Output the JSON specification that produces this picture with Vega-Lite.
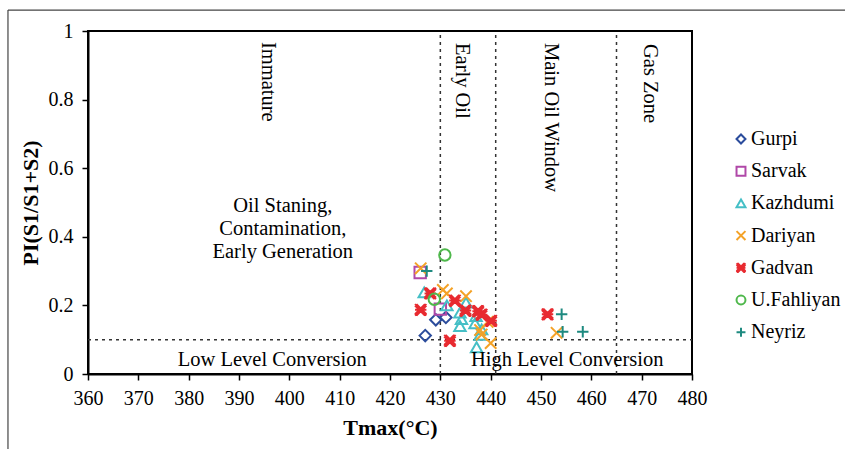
{
  "$schema": "https://vega.github.io/schema/vega-lite/v6.json",
  "autosize": "none",
  "width": 604,
  "height": 343,
  "padding": {"left": 88, "top": 31, "right": 153, "bottom": 75},
  "background": "white",
  "config": {
    "font": "Liberation Serif",
    "view": {"stroke": "black", "strokeWidth": 2},
    "axis": {
      "domainColor": "black",
      "domainWidth": 2,
      "tickColor": "black",
      "tickWidth": 1.5,
      "tickSize": 6,
      "labelColor": "black",
      "labelFont": "Liberation Serif",
      "labelFontSize": 20,
      "labelFlush": false,
      "labelOverlap": false,
      "titleColor": "black",
      "titleFont": "Liberation Serif",
      "titleFontSize": 22,
      "titleFontWeight": "bold",
      "grid": false
    },
    "legend": {
      "labelFont": "Liberation Serif",
      "labelFontSize": 20,
      "labelColor": "black"
    }
  },
  "encoding": {
    "x": {
      "field": "Tmax",
      "type": "quantitative",
      "scale": {"domain": [360, 480], "nice": false, "zero": false},
      "axis": {
        "title": "Tmax(°C)",
        "values": [360, 370, 380, 390, 400, 410, 420, 430, 440, 450, 460, 470, 480],
        "labelPadding": 8,
        "titlePadding": 9
      }
    },
    "y": {
      "field": "PI",
      "type": "quantitative",
      "scale": {"domain": [0, 1], "nice": false, "zero": false},
      "axis": {
        "title": "PI(S1/S1+S2)",
        "values": [0, 0.2, 0.4, 0.6, 0.8, 1],
        "format": ".1~f",
        "labelPadding": 9,
        "titlePadding": 6
      }
    }
  },
  "layer": [
    {
      "data": {"values": [
        {"Tmax": 344.1, "Tmax2": 512, "PI": 1.061, "PI2": 1.061},
        {"Tmax": 344.1, "Tmax2": 344.1, "PI": 1.061, "PI2": -0.23}
      ]},
      "mark": {"type": "rule", "color": "#444444", "strokeWidth": 1.2, "clip": false},
      "encoding": {
        "x2": {"field": "Tmax2"},
        "y2": {"field": "PI2"}
      }
    },
    {
      "data": {"values": [
        {"Tmax": 430, "Tmax2": 430, "PI": 0, "PI2": 1},
        {"Tmax": 441, "Tmax2": 441, "PI": 0, "PI2": 1},
        {"Tmax": 465, "Tmax2": 465, "PI": 0, "PI2": 1},
        {"Tmax": 360, "Tmax2": 480, "PI": 0.1, "PI2": 0.1}
      ]},
      "mark": {"type": "rule", "color": "#333333", "strokeWidth": 1.5, "strokeDash": [3, 4]},
      "encoding": {
        "x2": {"field": "Tmax2"},
        "y2": {"field": "PI2"}
      }
    },
    {
      "data": {"values": [
        {"Formation": "Gurpi", "Tmax": 427.0, "PI": 0.112},
        {"Formation": "Gurpi", "Tmax": 429.1, "PI": 0.158},
        {"Formation": "Gurpi", "Tmax": 431.1, "PI": 0.165},
        {"Formation": "Sarvak", "Tmax": 426.0, "PI": 0.296},
        {"Formation": "Sarvak", "Tmax": 430.0, "PI": 0.189},
        {"Formation": "Kazhdumi", "Tmax": 426.8, "PI": 0.238},
        {"Formation": "Kazhdumi", "Tmax": 431.3, "PI": 0.200},
        {"Formation": "Kazhdumi", "Tmax": 435.1, "PI": 0.208},
        {"Formation": "Kazhdumi", "Tmax": 433.9, "PI": 0.179},
        {"Formation": "Kazhdumi", "Tmax": 434.2, "PI": 0.160},
        {"Formation": "Kazhdumi", "Tmax": 433.9, "PI": 0.140},
        {"Formation": "Kazhdumi", "Tmax": 437.1, "PI": 0.169},
        {"Formation": "Kazhdumi", "Tmax": 436.9, "PI": 0.148},
        {"Formation": "Kazhdumi", "Tmax": 438.2, "PI": 0.130},
        {"Formation": "Kazhdumi", "Tmax": 437.9, "PI": 0.114},
        {"Formation": "Kazhdumi", "Tmax": 437.2, "PI": 0.078},
        {"Formation": "Dariyan", "Tmax": 426.1, "PI": 0.308},
        {"Formation": "Dariyan", "Tmax": 430.5, "PI": 0.245},
        {"Formation": "Dariyan", "Tmax": 431.3, "PI": 0.235},
        {"Formation": "Dariyan", "Tmax": 435.1, "PI": 0.227},
        {"Formation": "Dariyan", "Tmax": 437.9, "PI": 0.128},
        {"Formation": "Dariyan", "Tmax": 438.2, "PI": 0.115},
        {"Formation": "Dariyan", "Tmax": 440.0, "PI": 0.090},
        {"Formation": "Dariyan", "Tmax": 439.4, "PI": 0.152},
        {"Formation": "Dariyan", "Tmax": 453.1, "PI": 0.120},
        {"Formation": "Gadvan", "Tmax": 428.0, "PI": 0.235},
        {"Formation": "Gadvan", "Tmax": 426.1, "PI": 0.187},
        {"Formation": "Gadvan", "Tmax": 432.9, "PI": 0.214},
        {"Formation": "Gadvan", "Tmax": 435.0, "PI": 0.185},
        {"Formation": "Gadvan", "Tmax": 437.5, "PI": 0.183},
        {"Formation": "Gadvan", "Tmax": 438.2, "PI": 0.173},
        {"Formation": "Gadvan", "Tmax": 440.1, "PI": 0.155},
        {"Formation": "Gadvan", "Tmax": 431.9, "PI": 0.097},
        {"Formation": "Gadvan", "Tmax": 451.3, "PI": 0.174},
        {"Formation": "U.Fahliyan", "Tmax": 430.9, "PI": 0.347},
        {"Formation": "U.Fahliyan", "Tmax": 428.8, "PI": 0.218},
        {"Formation": "Neyriz", "Tmax": 427.3, "PI": 0.300},
        {"Formation": "Neyriz", "Tmax": 454.1, "PI": 0.174},
        {"Formation": "Neyriz", "Tmax": 454.3, "PI": 0.123},
        {"Formation": "Neyriz", "Tmax": 458.3, "PI": 0.123}
      ]},
      "mark": {"type": "point", "filled": false, "strokeWidth": 2, "opacity": 1, "size": 130},
      "encoding": {
        "color": {
          "field": "Formation",
          "type": "nominal",
          "scale": {
            "domain": ["Gurpi", "Sarvak", "Kazhdumi", "Dariyan", "Gadvan", "U.Fahliyan", "Neyriz"],
            "range": ["#2B4C9C", "#B048A8", "#45BFC6", "#F4A227", "#E82A30", "#4FB84C", "#1E8A80"]
          },
          "legend": {
            "title": null,
            "orient": "none",
            "legendX": 643,
            "legendY": 98,
            "padding": 0,
            "rowPadding": 12.2,
            "symbolSize": 80,
            "symbolStrokeWidth": 2,
            "labelOffset": 0
          }
        },
        "shape": {
          "field": "Formation",
          "type": "nominal",
          "scale": {
            "domain": ["Gurpi", "Sarvak", "Kazhdumi", "Dariyan", "Gadvan", "U.Fahliyan", "Neyriz"],
            "range": [
              "diamond",
              "square",
              "triangle-up",
              "M-1,-1L1,1M1,-1L-1,1",
              "M-1,-1L1,1M1,-1L-1,1M-0.75,-1L1,0.75M-1,-0.75L0.75,1M0.75,-1L-1,0.75M1,-0.75L-0.75,1M-1,0L1,0",
              "circle",
              "M-1,0L1,0M0,-1L0,1"
            ]
          }
        }
      }
    },
    {
      "data": {"values": [
        {"label": "Immature", "Tmax": 395.8, "PI": 0.968},
        {"label": "Early Oil", "Tmax": 434.4, "PI": 0.965},
        {"label": "Main Oil Window", "Tmax": 452.0, "PI": 0.965},
        {"label": "Gas Zone", "Tmax": 471.7, "PI": 0.962}
      ]},
      "mark": {"type": "text", "angle": 90, "align": "left", "baseline": "middle", "fontSize": 20.5, "color": "black"},
      "encoding": {"text": {"field": "label"}}
    },
    {
      "data": {"values": [
        {"label": "Oil Staning,\nContamination,\nEarly Generation", "Tmax": 398.7, "PI": 0.49},
        {"label": "Low Level Conversion", "Tmax": 396.6, "PI": 0.041},
        {"label": "High Level Conversion", "Tmax": 455.2, "PI": 0.041}
      ]},
      "mark": {"type": "text", "align": "center", "baseline": "middle", "fontSize": 20.5, "lineHeight": 23, "lineBreak": "\n", "color": "black"},
      "encoding": {"text": {"field": "label"}}
    }
  ]
}
